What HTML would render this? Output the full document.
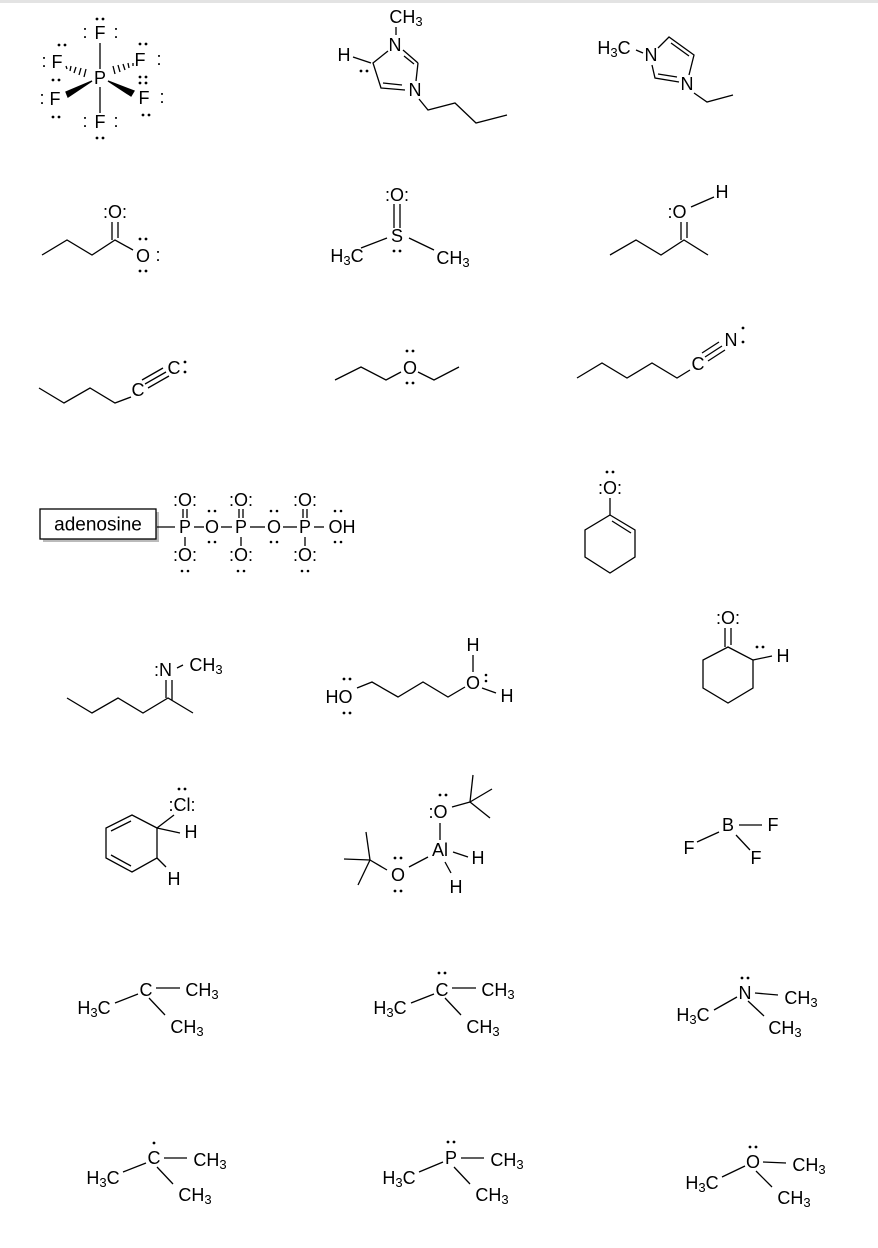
<!DOCTYPE html>
<html><head><meta charset="utf-8"><style>
html,body{margin:0;padding:0;background:#fff}
svg{display:block}
text{font-family:"Liberation Sans",Arial,sans-serif;font-size:18px;fill:#000;text-anchor:middle;dominant-baseline:central}
.s{font-size:13px}
line,polyline,polygon,rect{stroke:#000;stroke-width:1.3;fill:none}
circle{fill:#000}
</style></head><body>
<svg width="878" height="1248" viewBox="0 0 878 1248" xmlns="http://www.w3.org/2000/svg">
<rect x="0" y="0" width="878" height="3" style="fill:#e3e3e3;stroke:none"/>

<!-- PF6 -->
<text x="100" y="33">F</text><text x="85" y="32">:</text><text x="116" y="32">:</text>
<circle cx="97" cy="19" r="1.4"/><circle cx="103" cy="19" r="1.4"/>
<line x1="100" y1="43" x2="100" y2="69"/>
<text x="100" y="78">P</text>
<line x1="100" y1="87" x2="100" y2="113"/>
<text x="100" y="122">F</text><text x="85" y="121">:</text><text x="116" y="121">:</text>
<circle cx="97" cy="138" r="1.4"/><circle cx="103" cy="138" r="1.4"/>
<text x="57" y="62">F</text><text x="44" y="61">:</text>
<circle cx="59" cy="45" r="1.4"/><circle cx="65" cy="45" r="1.4"/>
<text x="140" y="60">F</text><text x="159" y="59">:</text>
<circle cx="140" cy="44" r="1.4"/><circle cx="146" cy="44" r="1.4"/>
<circle cx="140" cy="77" r="1.4"/><circle cx="146" cy="77" r="1.4"/>
<circle cx="140" cy="83" r="1.4"/><circle cx="146" cy="83" r="1.4"/>
<text x="55" y="99">F</text><text x="42" y="98">:</text>
<circle cx="53" cy="80" r="1.4"/><circle cx="59" cy="80" r="1.4"/>
<circle cx="53" cy="117" r="1.4"/><circle cx="59" cy="117" r="1.4"/>
<text x="144" y="98">F</text><text x="162" y="97">:</text>
<circle cx="143" cy="115" r="1.4"/><circle cx="149" cy="115" r="1.4"/>
<g stroke="#000" stroke-width="1">
<line x1="66" y1="66" x2="67" y2="69"/><line x1="71" y1="66" x2="70" y2="71"/><line x1="76" y1="67" x2="74" y2="73"/><line x1="81" y1="68" x2="79" y2="75"/><line x1="86" y1="69" x2="84" y2="77"/>
<line x1="133" y1="63" x2="133" y2="66"/><line x1="128" y1="63" x2="129" y2="68"/><line x1="123" y1="64" x2="125" y2="70"/><line x1="118" y1="65" x2="120" y2="72"/><line x1="113" y1="66" x2="115" y2="74"/>
</g>
<polygon points="92,81 66,92 68,97" style="fill:#000"/>
<polygon points="108,81 131,96 134,91" style="fill:#000"/>

<!-- imidazolylidene -->
<text x="406" y="17">CH<tspan class="s" dy="4">3</tspan></text>
<line x1="396" y1="27" x2="396" y2="35"/>
<text x="395" y="45">N</text>
<text x="344" y="55">H</text>
<line x1="353" y1="57" x2="371" y2="63"/>
<circle cx="361" cy="71" r="1.4"/><circle cx="367" cy="71" r="1.4"/>
<polyline points="388,51 373,63 381,88 405,90"/>
<line x1="383" y1="83" x2="402" y2="85"/>
<line x1="403" y1="50" x2="418" y2="63" /><line x1="404" y1="56" x2="414" y2="64"/>
<line x1="418" y1="63" x2="416" y2="81"/>
<text x="415" y="90">N</text>
<polyline points="419,99 428,110 455,103 476,123 507,115"/>

<!-- EMIM -->
<text x="614" y="48">H<tspan class="s" dy="4">3</tspan><tspan dy="-4">C</tspan></text>
<line x1="636" y1="50" x2="643" y2="53"/>
<text x="651" y="55">N</text>
<polyline points="658,48 669,37 694,55 689,75"/>
<line x1="671" y1="43" x2="689" y2="56"/>
<polyline points="652,65 655,78 679,82"/>
<line x1="658" y1="74" x2="677" y2="77"/>
<text x="687" y="84">N</text>
<polyline points="694,93 707,102 733,95"/>

<!-- butanoate -->
<polyline points="42,255 67,240 92,255 115,240 133,250"/>
<line x1="112" y1="222" x2="112" y2="240"/><line x1="118" y1="222" x2="118" y2="238"/>
<text x="115" y="212">:O:</text>
<text x="143" y="256">O</text><text x="158" y="255">:</text>
<circle cx="140" cy="239" r="1.4"/><circle cx="146" cy="239" r="1.4"/>
<circle cx="140" cy="271" r="1.4"/><circle cx="146" cy="271" r="1.4"/>

<!-- DMSO -->
<text x="397" y="195">:O:</text>
<line x1="394" y1="204" x2="394" y2="228"/><line x1="400" y1="204" x2="400" y2="228"/>
<text x="397" y="236">S</text>
<circle cx="394" cy="251" r="1.4"/><circle cx="400" cy="251" r="1.4"/>
<line x1="361" y1="248" x2="387" y2="238"/><line x1="409" y1="238" x2="434" y2="250"/>
<text x="347" y="256">H<tspan class="s" dy="4">3</tspan><tspan dy="-4">C</tspan></text>
<text x="453" y="258">CH<tspan class="s" dy="4">3</tspan></text>

<!-- protonated ketone -->
<text x="677" y="212">:O</text>
<text x="722" y="192">H</text>
<line x1="691" y1="207" x2="714" y2="197"/>
<line x1="681" y1="222" x2="681" y2="240"/><line x1="687" y1="222" x2="687" y2="238"/>
<polyline points="610,255 636,240 661,255 684,240 708,255"/>

<!-- alkynyl -->
<polyline points="39,388 64,403 90,388 115,403 131,397"/>
<text x="138" y="390">C</text>
<line x1="145" y1="384" x2="166" y2="372"/><line x1="142" y1="380" x2="163" y2="368"/><line x1="148" y1="388" x2="169" y2="376"/>
<text x="174" y="368">C</text>
<circle cx="185" cy="362" r="1.4"/><circle cx="185" cy="372" r="1.4"/>

<!-- ether -->
<polyline points="335,380 361,367 386,380 401,372"/>
<polyline points="418,372 434,380 459,367"/>
<text x="410" y="368">O</text>
<circle cx="407" cy="351" r="1.4"/><circle cx="413" cy="351" r="1.4"/>
<circle cx="407" cy="383" r="1.4"/><circle cx="413" cy="383" r="1.4"/>

<!-- nitrile -->
<polyline points="577,378 602,363 627,378 652,363 677,378 690,370"/>
<text x="698" y="364">C</text>
<line x1="705" y1="357" x2="722" y2="346"/><line x1="702" y1="353" x2="719" y2="342"/><line x1="708" y1="361" x2="725" y2="350"/>
<text x="731" y="340">N</text>
<circle cx="743" cy="328" r="1.4"/><circle cx="743" cy="342" r="1.4"/>

<!-- ATP -->
<rect x="43" y="512" width="116" height="30" style="fill:#bbb;stroke:none"/>
<rect x="40" y="509" width="116" height="30" style="fill:#fff"/>
<text x="98" y="525" style="font-size:19px">adenosine</text>
<line x1="157" y1="527" x2="175" y2="527"/>
<text x="185" y="527">P</text><line x1="194" y1="527" x2="204" y2="527"/>
<text x="212" y="527">O</text><line x1="221" y1="527" x2="232" y2="527"/>
<text x="241" y="527">P</text><line x1="250" y1="527" x2="265" y2="527"/>
<text x="274" y="527">O</text><line x1="283" y1="527" x2="297" y2="527"/>
<text x="305" y="527">P</text><line x1="314" y1="527" x2="324" y2="527"/>
<text x="342" y="527">OH</text>
<text x="185" y="500">:O:</text><text x="241" y="500">:O:</text><text x="305" y="500">:O:</text>
<text x="185" y="555">:O:</text><text x="241" y="555">:O:</text><text x="305" y="555">:O:</text>
<line x1="183" y1="509" x2="183" y2="518"/><line x1="187" y1="509" x2="187" y2="518"/>
<line x1="239" y1="509" x2="239" y2="518"/><line x1="243" y1="509" x2="243" y2="518"/>
<line x1="303" y1="509" x2="303" y2="518"/><line x1="307" y1="509" x2="307" y2="518"/>
<line x1="185" y1="537" x2="185" y2="546"/><line x1="241" y1="537" x2="241" y2="546"/><line x1="305" y1="537" x2="305" y2="546"/>
<circle cx="182" cy="571" r="1.3"/><circle cx="188" cy="571" r="1.3"/>
<circle cx="238" cy="571" r="1.3"/><circle cx="244" cy="571" r="1.3"/>
<circle cx="302" cy="571" r="1.3"/><circle cx="308" cy="571" r="1.3"/>
<circle cx="209" cy="511" r="1.3"/><circle cx="215" cy="511" r="1.3"/><circle cx="209" cy="542" r="1.3"/><circle cx="215" cy="542" r="1.3"/>
<circle cx="271" cy="511" r="1.3"/><circle cx="277" cy="511" r="1.3"/><circle cx="271" cy="542" r="1.3"/><circle cx="277" cy="542" r="1.3"/>
<circle cx="335" cy="511" r="1.3"/><circle cx="341" cy="511" r="1.3"/><circle cx="335" cy="542" r="1.3"/><circle cx="341" cy="542" r="1.3"/>

<!-- enolate -->
<text x="610" y="488">:O:</text>
<circle cx="607" cy="472" r="1.4"/><circle cx="613" cy="472" r="1.4"/>
<line x1="610" y1="498" x2="610" y2="515"/>
<polygon points="610,515 635,530 635,557 610,573 585,557 585,530"/>
<line x1="612" y1="521" x2="631" y2="533"/>

<!-- imine -->
<polyline points="67,698 92,713 118,698 143,713 168,698 193,713"/>
<line x1="166" y1="680" x2="166" y2="698"/><line x1="172" y1="680" x2="172" y2="700"/>
<text x="163" y="670">:N</text>
<line x1="177" y1="668" x2="183" y2="665"/>
<text x="206" y="665">CH<tspan class="s" dy="4">3</tspan></text>

<!-- diol oxonium -->
<text x="339" y="697">HO</text>
<circle cx="344" cy="679" r="1.4"/><circle cx="350" cy="679" r="1.4"/>
<circle cx="344" cy="713" r="1.4"/><circle cx="350" cy="713" r="1.4"/>
<polyline points="357,688 372,682 398,697 423,682 448,697 465,687"/>
<text x="473" y="683">O</text>
<text x="473" y="645">H</text>
<line x1="473" y1="655" x2="473" y2="672"/>
<line x1="482" y1="688" x2="496" y2="693"/>
<text x="507" y="696">H</text>
<circle cx="486" cy="675" r="1.3"/><circle cx="486" cy="681" r="1.3"/>

<!-- cyclohexanone -->
<text x="728" y="618">:O:</text>
<line x1="725" y1="628" x2="725" y2="647"/><line x1="731" y1="628" x2="731" y2="645"/>
<polygon points="728,647 753,660 753,688 728,703 703,688 703,660"/>
<line x1="753" y1="660" x2="772" y2="656"/>
<text x="783" y="656">H</text>
<circle cx="757" cy="647" r="1.4"/><circle cx="763" cy="647" r="1.4"/>

<!-- chlorocyclohexadiene -->
<text x="182" y="805">:Cl:</text>
<circle cx="179" cy="789" r="1.4"/><circle cx="185" cy="789" r="1.4"/>
<polygon points="157,828 132,815 106,828 106,858 132,872 157,858"/>
<line x1="131" y1="821" x2="111" y2="831"/><line x1="111" y1="855" x2="131" y2="866"/>
<line x1="157" y1="828" x2="174" y2="815"/>
<line x1="157" y1="828" x2="180" y2="833"/>
<text x="191" y="832">H</text>
<line x1="157" y1="858" x2="166" y2="867"/>
<text x="174" y="879">H</text>

<!-- Al -->
<text x="438" y="812">:O</text>
<circle cx="440" cy="795" r="1.4"/><circle cx="446" cy="795" r="1.4"/>
<line x1="440" y1="823" x2="440" y2="840"/>
<text x="440" y="850">Al</text>
<line x1="452" y1="807" x2="470" y2="802"/>
<line x1="470" y1="802" x2="473" y2="775"/><line x1="470" y1="802" x2="492" y2="789"/><line x1="470" y1="802" x2="490" y2="818"/>
<line x1="453" y1="852" x2="468" y2="857"/>
<text x="478" y="858">H</text>
<line x1="445" y1="862" x2="451" y2="873"/>
<text x="456" y="887">H</text>
<line x1="428" y1="857" x2="409" y2="867"/>
<text x="398" y="875">O</text>
<circle cx="395" cy="858" r="1.4"/><circle cx="401" cy="858" r="1.4"/>
<circle cx="395" cy="891" r="1.4"/><circle cx="401" cy="891" r="1.4"/>
<line x1="387" y1="870" x2="370" y2="860"/>
<line x1="370" y1="860" x2="366" y2="832"/><line x1="370" y1="860" x2="344" y2="859"/><line x1="370" y1="860" x2="358" y2="885"/>

<!-- BF3 -->
<text x="728" y="825">B</text>
<line x1="739" y1="825" x2="762" y2="825"/>
<text x="773" y="825">F</text>
<line x1="697" y1="842" x2="719" y2="832"/>
<text x="689" y="848">F</text>
<line x1="736" y1="835" x2="750" y2="850"/>
<text x="756" y="858">F</text>

<!-- row 7 -->
<text x="146" y="990">C</text><line x1="156" y1="988" x2="180" y2="988"/>
<text x="202" y="990">CH<tspan class="s" dy="4">3</tspan></text>
<line x1="115" y1="1003" x2="138" y2="994"/>
<text x="94" y="1008">H<tspan class="s" dy="4">3</tspan><tspan dy="-4">C</tspan></text>
<line x1="149" y1="998" x2="165" y2="1015"/>
<text x="187" y="1027">CH<tspan class="s" dy="4">3</tspan></text>

<text x="442" y="990">C</text><line x1="452" y1="988" x2="476" y2="988"/>
<circle cx="439" cy="973" r="1.4"/><circle cx="445" cy="973" r="1.4"/>
<text x="498" y="990">CH<tspan class="s" dy="4">3</tspan></text>
<line x1="411" y1="1003" x2="434" y2="994"/>
<text x="390" y="1008">H<tspan class="s" dy="4">3</tspan><tspan dy="-4">C</tspan></text>
<line x1="445" y1="998" x2="461" y2="1015"/>
<text x="483" y="1027">CH<tspan class="s" dy="4">3</tspan></text>

<text x="745" y="993">N</text><line x1="755" y1="993" x2="778" y2="995"/>
<circle cx="742" cy="978" r="1.4"/><circle cx="748" cy="978" r="1.4"/>
<text x="801" y="998">CH<tspan class="s" dy="4">3</tspan></text>
<line x1="714" y1="1010" x2="737" y2="997"/>
<text x="693" y="1015">H<tspan class="s" dy="4">3</tspan><tspan dy="-4">C</tspan></text>
<line x1="748" y1="1001" x2="764" y2="1016"/>
<text x="785" y="1028">CH<tspan class="s" dy="4">3</tspan></text>

<!-- row 8 -->
<text x="154" y="1158">C</text><line x1="164" y1="1158" x2="187" y2="1158"/>
<circle cx="154" cy="1143" r="1.4"/>
<text x="210" y="1160">CH<tspan class="s" dy="4">3</tspan></text>
<line x1="123" y1="1172" x2="146" y2="1163"/>
<text x="103" y="1178">H<tspan class="s" dy="4">3</tspan><tspan dy="-4">C</tspan></text>
<line x1="157" y1="1167" x2="173" y2="1184"/>
<text x="195" y="1195">CH<tspan class="s" dy="4">3</tspan></text>

<text x="451" y="1158">P</text><line x1="461" y1="1158" x2="484" y2="1158"/>
<circle cx="448" cy="1142" r="1.4"/><circle cx="454" cy="1142" r="1.4"/>
<text x="507" y="1160">CH<tspan class="s" dy="4">3</tspan></text>
<line x1="419" y1="1172" x2="443" y2="1162"/>
<text x="399" y="1178">H<tspan class="s" dy="4">3</tspan><tspan dy="-4">C</tspan></text>
<line x1="454" y1="1167" x2="470" y2="1184"/>
<text x="492" y="1195">CH<tspan class="s" dy="4">3</tspan></text>

<text x="753" y="1162">O</text><line x1="763" y1="1162" x2="786" y2="1163"/>
<circle cx="750" cy="1147" r="1.4"/><circle cx="756" cy="1147" r="1.4"/>
<text x="809" y="1165">CH<tspan class="s" dy="4">3</tspan></text>
<line x1="722" y1="1177" x2="745" y2="1166"/>
<text x="702" y="1183">H<tspan class="s" dy="4">3</tspan><tspan dy="-4">C</tspan></text>
<line x1="756" y1="1171" x2="772" y2="1187"/>
<text x="794" y="1198">CH<tspan class="s" dy="4">3</tspan></text>
</svg>
</body></html>
